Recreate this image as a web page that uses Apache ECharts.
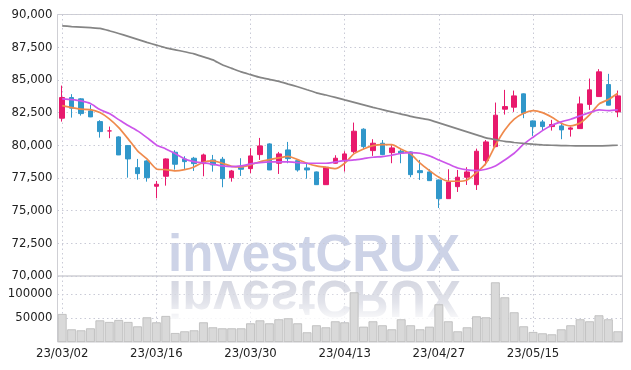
<!DOCTYPE html>
<html>
<head>
<meta charset="utf-8">
<script src="https://cdn.jsdelivr.net/npm/echarts@6/dist/echarts.min.js"></script>
<style>html,body{margin:0;padding:0;background:#fff;}#c{width:631px;height:370px;}</style>
</head>
<body>
<div id="c"></div>
<script>
var dates = ['23/03/02','23/03/03','23/03/06','23/03/07','23/03/08','23/03/09','23/03/10','23/03/13','23/03/14','23/03/15',
'23/03/16','23/03/17','23/03/20','23/03/21','23/03/22','23/03/23','23/03/24','23/03/27','23/03/28','23/03/29',
'23/03/30','23/03/31','23/04/03','23/04/04','23/04/05','23/04/06','23/04/07','23/04/10','23/04/11','23/04/12',
'23/04/13','23/04/14','23/04/17','23/04/18','23/04/19','23/04/20','23/04/21','23/04/24','23/04/25','23/04/26',
'23/04/27','23/04/28','23/05/02','23/05/03','23/05/04','23/05/08','23/05/09','23/05/10','23/05/11','23/05/12',
'23/05/15','23/05/16','23/05/17','23/05/18','23/05/19','23/05/22','23/05/23','23/05/24','23/05/25','23/05/26'];

var openP  = [82070,83646,83547,82628,81809,81097,80638,79972,78288,78800,
76864,77630,79467,78954,79007,78594,78877,78931,77522,78319,
78211,79283,80102,78625,79643,78823,78265,77959,76986,78625,
78877,79513,81227,79589,80155,79436,79543,79490,78058,77959,
77346,75915,76833,77553,76986,78823,79896,82758,82911,83930,
81863,81786,81427,81480,81227,81273,83126,83723,84641,82552];
var closeP = [83646,82835,82421,82169,81044,81097,79260,78954,77829,77522,
77017,78954,78548,78747,78594,79260,78494,77446,78035,78165,
79184,79949,78111,79337,78977,78111,78111,76986,78319,79007,
79337,81074,79896,80155,79283,79796,79390,77752,77905,77293,
75915,77193,77553,77959,79543,80255,82299,82957,83776,82452,
81427,81427,81580,81174,81327,83164,84236,85614,83065,83776];
var lowP   = [81809,82115,82268,82150,80584,80538,79250,77522,77369,77216,
75945,76910,78135,78188,78035,77630,77982,76787,77216,77653,
77859,78877,78100,77805,78625,77982,77446,76960,76960,78600,
77982,79390,79696,79184,79240,78625,78625,77553,77346,77280,
75203,75900,76427,76964,76581,78471,79850,82345,82552,82069,
80714,81120,81120,80462,80661,81250,82705,83700,83050,82146];
var highP  = [84565,83907,83600,83088,81916,81427,80690,80020,78954,78850,
77270,79000,79620,79160,79110,79360,79260,79107,78111,79007,
79773,80561,80150,79490,80255,78850,78625,77990,78350,79237,
79543,81733,81300,80462,80400,80000,79696,79520,78877,78165,
77380,78165,78111,78319,79742,80400,83264,84236,84182,83960,
81900,81939,81939,81687,81427,83723,85101,85820,85461,84182];

var ma5 = [83030,82880,82760,82730,82500,82020,81350,80490,79570,78950,
78190,78135,78035,78135,78340,78700,78800,78625,78390,78340,
78500,78740,78900,79040,79150,78900,78625,78418,78318,78211,
78625,79360,79720,79970,80050,80050,79700,79340,78625,78060,
77550,77246,77246,77346,77905,78625,80000,81174,81993,82452,
82651,82498,82146,81687,81480,81700,82320,83150,83500,83980];
var ma10 = [83547,83493,83394,83187,82728,82421,81962,81503,81097,80584,
80026,79720,79360,78954,78747,78648,78548,78418,78364,78418,
78571,78670,78724,78724,78724,78670,78625,78625,78625,78724,
78823,78877,78977,79084,79130,79237,79390,79436,79390,79184,
78877,78571,78265,78111,78058,78165,78418,78877,79390,80080,
80615,81120,81534,81786,81993,82245,82498,82705,82651,82705];
var maLong = [89130,89080,89040,88990,88940,88760,88550,88330,88100,87870,
87660,87450,87300,87150,86990,86760,86530,86150,85880,85610,
85400,85190,85040,84890,84680,84470,84240,84010,83840,83660,
83470,83280,83090,82900,82720,82550,82380,82210,82070,81940,
81710,81480,81250,81020,80790,80560,80430,80290,80210,80140,
80080,80030,80000,79970,79960,79950,79950,79950,79970,80000];

var volume = [58300,26400,24300,28500,45100,41700,45800,41700,32600,51400,
41000,54200,18700,22200,24300,41000,30600,28500,28500,28500,
38900,45100,38900,47300,49400,38900,20200,34800,30600,43100,
41000,103500,31900,43100,34800,26400,47300,34800,26400,31900,
78500,43100,22200,30600,53500,51400,124300,93100,61900,32700,
20800,18100,16000,26400,34800,47300,43100,55600,47300,22200];

var priceTicks = {min:70000, max:90000, interval:2500};
var volTicks = {min:0, max:137500, interval:50000};

var candleData = dates.map(function(d,i){ return [openP[i], closeP[i], lowP[i], highP[i]]; });

var chart = echarts.init(document.getElementById('c'), null, {renderer:'canvas'});
var FONT = '"DejaVu Sans Condensed", "DejaVu Sans", sans-serif';
var WM_FONT = 'bold 51px "Liberation Sans", Arial, sans-serif';
var splitStyle = {color:'#c9cad6', type:[1.5,3], width:1};

var option = {
  animation:false,
  backgroundColor:'#ffffff',
  grid:[
    {left:57.5, right:8.5, top:14.5, height:261.5, show:true, borderColor:'#cfcfd4', borderWidth:1},
    {left:57.5, right:8.5, top:276, height:66, show:true, borderColor:'#cfcfd4', borderWidth:1}
  ],
  graphic:[
    {type:'text', x:314, y:282, z:0, silent:true,
      style:{text:'investCRUX', font:WM_FONT, fill:'#cdd3e7', textAlign:'center', textVerticalAlign:'bottom'}},
    {type:'text', x:314, y:270, scaleY:-1, z:0, silent:true,
      style:{text:'investCRUX', font:WM_FONT, textAlign:'center', textVerticalAlign:'bottom', fill:'#d3d5e0'}},
    {type:'rect', z:1, silent:true,
      shape:{x:160, y:277, width:310, height:42},
      style:{fill:new echarts.graphic.LinearGradient(0,0,0,1,[{offset:0,color:'rgba(255,255,255,0)'},{offset:0.6,color:'rgba(255,255,255,0.35)'},{offset:1,color:'rgba(255,255,255,0.85)'}])}}
  ],
  xAxis:[
    {type:'category', gridIndex:0, data:dates, boundaryGap:true,
      axisLine:{show:false}, axisTick:{show:false}, axisLabel:{show:false},
      splitLine:{show:true, interval:9, alignWithLabel:true, lineStyle:splitStyle}},
    {type:'category', gridIndex:1, data:dates, boundaryGap:true,
      axisLine:{show:false}, axisTick:{show:false},
      axisLabel:{show:true, interval:9, color:'#222', fontFamily:FONT, fontSize:13, margin:5},
      splitLine:{show:true, interval:9, alignWithLabel:true, lineStyle:splitStyle}}
  ],
  yAxis:[
    {type:'value', gridIndex:0, min:priceTicks.min, max:priceTicks.max, interval:priceTicks.interval,
      axisLine:{show:false}, axisTick:{show:false},
      axisLabel:{color:'#222', fontFamily:FONT, fontSize:13, margin:5,
        formatter:function(v){ return v.toLocaleString('en-US'); }},
      splitLine:{show:true, lineStyle:splitStyle}},
    {type:'value', gridIndex:1, min:volTicks.min, max:volTicks.max, interval:volTicks.interval,
      axisLine:{show:false}, axisTick:{show:false},
      axisLabel:{color:'#222', fontFamily:FONT, fontSize:13, margin:5, showMinLabel:false, showMaxLabel:false,
        formatter:function(v){ return String(v); }},
      splitLine:{show:true, showMinLine:false, showMaxLine:false, lineStyle:splitStyle}}
  ],
  series:[
    {type:'candlestick', name:'price', xAxisIndex:0, yAxisIndex:0, data:candleData, barWidth:5,
      itemStyle:{color:'#e8196c', color0:'#3097ca', borderColor:'#e8196c', borderColor0:'#3097ca', borderWidth:1}},
    {type:'line', name:'MA5', xAxisIndex:0, yAxisIndex:0, data:ma5, showSymbol:false, smooth:0.2,
      lineStyle:{color:'#ef8a4c', width:1.7}},
    {type:'line', name:'MA10', xAxisIndex:0, yAxisIndex:0, data:ma10, showSymbol:false, smooth:0.2,
      lineStyle:{color:'#cc55ea', width:1.7}},
    {type:'line', name:'MA', xAxisIndex:0, yAxisIndex:0, data:maLong, showSymbol:false, smooth:0.2,
      lineStyle:{color:'#858585', width:1.7}},
    {type:'bar', name:'volume', xAxisIndex:1, yAxisIndex:1, data:volume, barCategoryGap:'6%', z:3,
      itemStyle:{color:'#d9d9d9', borderColor:'#b9b9b9', borderWidth:0.8}}
  ]
};
chart.setOption(option);
</script>
</body>
</html>
